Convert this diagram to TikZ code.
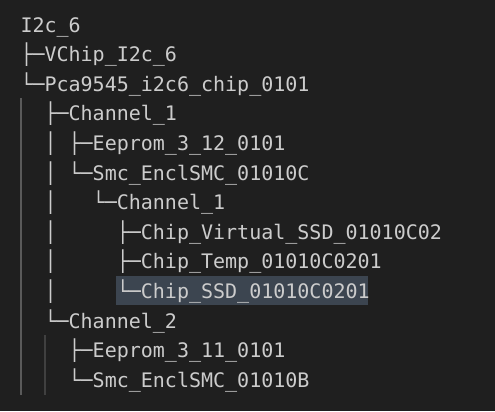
\documentclass[tikz,border=0pt]{standalone}
\usepackage{fontspec}
\setmonofont{DejaVu Sans Mono}
\definecolor{bgdark}{HTML}{1F1F1F}
\definecolor{txtgrey}{HTML}{CCCCCC}
\definecolor{guideA}{HTML}{5A5A5A}
\definecolor{guideB}{HTML}{404040}
\definecolor{selblue}{HTML}{3C4550}
\tikzset{every picture/.style={line width=0.75pt}}
\tikzset{treeline/.style={anchor=base west,inner sep=0pt,text=txtgrey,font=\ttfamily\fontsize{15}{18}\selectfont}}

\begin{document}
\begin{tikzpicture}[x=0.75pt,y=0.75pt,yscale=-1,xscale=1]
%set diagram to 495 x 411
\path[fill=bgdark] (0,0) rectangle (495,411);

%Selection [id:sel01] 
\fill[selblue] (116,275.6) rectangle (368,305.4);

%Indent guides [id:guide01] 
\draw[guideA, line width=1.5pt] (20.5,98) -- (20.5,394.5) ;
%Indent guides [id:guide02] 
\draw[guideB, line width=1.5pt] (44.5,335) -- (44.5,394.5) ;

% Text Node
\node[treeline] (root) at (20,32) {I2c\_6};
% Text Node
\node[treeline] (vchip) at (20,61.6) {├─VChip\_I2c\_6};
% Text Node
\node[treeline] (pca) at (20,91.2) {└─Pca9545\_i2c6\_chip\_0101};
% Text Node
\node[treeline] (chanA) at (20,120.8) {\ \ ├─Channel\_1};
% Text Node
\node[treeline] (eepA) at (20,150.4) {\ \ │ ├─Eeprom\_3\_12\_0101};
% Text Node
\node[treeline] (smcA) at (20,180) {\ \ │ └─Smc\_EnclSMC\_01010C};
% Text Node
\node[treeline] (chanAA) at (20,209.6) {\ \ │\ \ \ └─Channel\_1};
% Text Node
\node[treeline] (virt) at (20,239.2) {\ \ │\ \ \ \ \ ├─Chip\_Virtual\_SSD\_01010C02};
% Text Node
\node[treeline] (temp) at (20,268.8) {\ \ │\ \ \ \ \ ├─Chip\_Temp\_01010C0201};
% Text Node
\node[treeline] (ssd) at (20,298.4) {\ \ │\ \ \ \ \ └─Chip\_SSD\_01010C0201};
% Text Node
\node[treeline] (chanB) at (20,328) {\ \ └─Channel\_2};
% Text Node
\node[treeline] (eepB) at (20,357.6) {\ \ \ \ ├─Eeprom\_3\_11\_0101};
% Text Node
\node[treeline] (smcB) at (20,387.2) {\ \ \ \ └─Smc\_EnclSMC\_01010B};

\end{tikzpicture}
\end{document}
